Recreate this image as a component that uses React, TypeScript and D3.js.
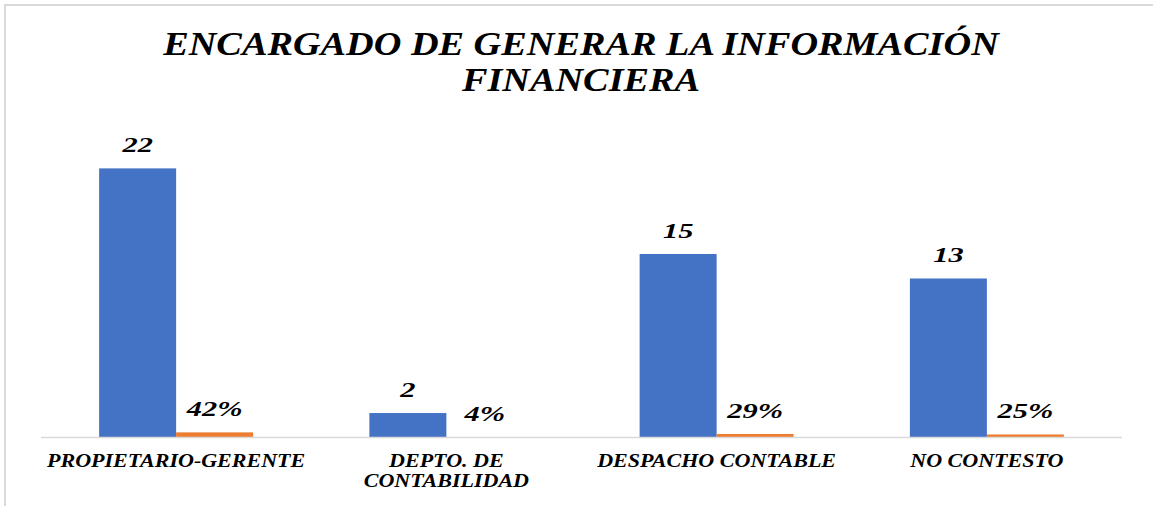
import React from "react";
import * as d3 from "d3";

const categories = ["PROPIETARIO-GERENTE", "DEPTO. DE\nCONTABILIDAD", "DESPACHO CONTABLE", "NO CONTESTO"];
const countValues = [22, 2, 15, 13];
const percentValues = [0.42, 0.04, 0.29, 0.25];
const percentLabels = ["42%", "4%", "29%", "25%"];
const seriesNames = ["Frecuencia", "Porcentaje"];
const titleLines = ["ENCARGADO DE GENERAR LA INFORMACIÓN", "FINANCIERA"];
const yMax = 25;

const W = 1153;
const H = 506;
const FONT = "'Liberation Serif', 'Times New Roman', serif";

function StretchText({ x, y, sx, size, children }: { x: number; y: number; sx: number; size: number; children: React.ReactNode }) {
  return (
    <g transform={`translate(${x},${y}) scale(${sx},1)`}>
      <text
        x={0}
        y={0}
        textAnchor="middle"
        fontFamily={FONT}
        fontWeight="bold"
        fontStyle="italic"
        fontSize={size}
        fill="#000"
      >
        {children}
      </text>
    </g>
  );
}

export default function App() {
  const plotLeft = 41;
  const plotRight = 1122;
  const baseY = 437.5;
  const plotTop = 131.7;

  const x0 = d3.scaleBand<string>().domain(categories).range([plotLeft, plotRight]).padding(0);
  const x1 = d3
    .scaleBand<string>()
    .domain(seriesNames)
    .range([0, x0.bandwidth()])
    .paddingInner(0)
    .paddingOuter(0.755);
  const y = d3.scaleLinear().domain([0, yMax]).range([baseY, plotTop]);

  const colors = ["#4472C4", "#ED7D31"];

  return (
    <div style={{ position: "absolute", left: 0, top: 0, width: W, height: H, background: "#fff" }}>
      <svg width={W} height={H} style={{ display: "block" }}>
        <rect x={0} y={0} width={W} height={H} fill="#fff" />
        <rect x={5} y={5} width={W + 20} height={H + 20} fill="none" stroke="#d9d9d9" strokeWidth={2} />

        {titleLines.map((t, i) => (
          <StretchText key={t} x={581} y={55 + i * 36} sx={1.16} size={33}>
            {t}
          </StretchText>
        ))}

        {categories.map((c, i) => {
          const bx = x0(c)!;
          const xs = [bx + x1(seriesNames[0])!, bx + x1(seriesNames[1])!];
          const vals = [countValues[i], percentValues[i]];
          const labels = [String(countValues[i]), percentLabels[i]];
          return (
            <g key={c}>
              {vals.map((v, j) => (
                <rect
                  key={j}
                  x={xs[j]}
                  y={y(v)}
                  width={x1.bandwidth()}
                  height={baseY - y(v)}
                  fill={colors[j]}
                />
              ))}
              {vals.map((v, j) => (
                <StretchText key={"l" + j} x={xs[j] + x1.bandwidth() / 2} y={y(v) - 16} sx={1.45} size={21}>
                  {labels[j]}
                </StretchText>
              ))}
            </g>
          );
        })}

        <line x1={plotLeft} x2={plotRight} y1={baseY} y2={baseY} stroke="#d9d9d9" strokeWidth={1.5} />

        {categories.map((c) => {
          const cx = x0(c)! + x0.bandwidth() / 2;
          const lines = c.split("\n");
          return (
            <g key={"c" + c}>
              {lines.map((ln, k) => (
                <StretchText key={k} x={cx} y={466.5 + k * 20} sx={1.16} size={19}>
                  {ln}
                </StretchText>
              ))}
            </g>
          );
        })}
      </svg>
    </div>
  );
}
